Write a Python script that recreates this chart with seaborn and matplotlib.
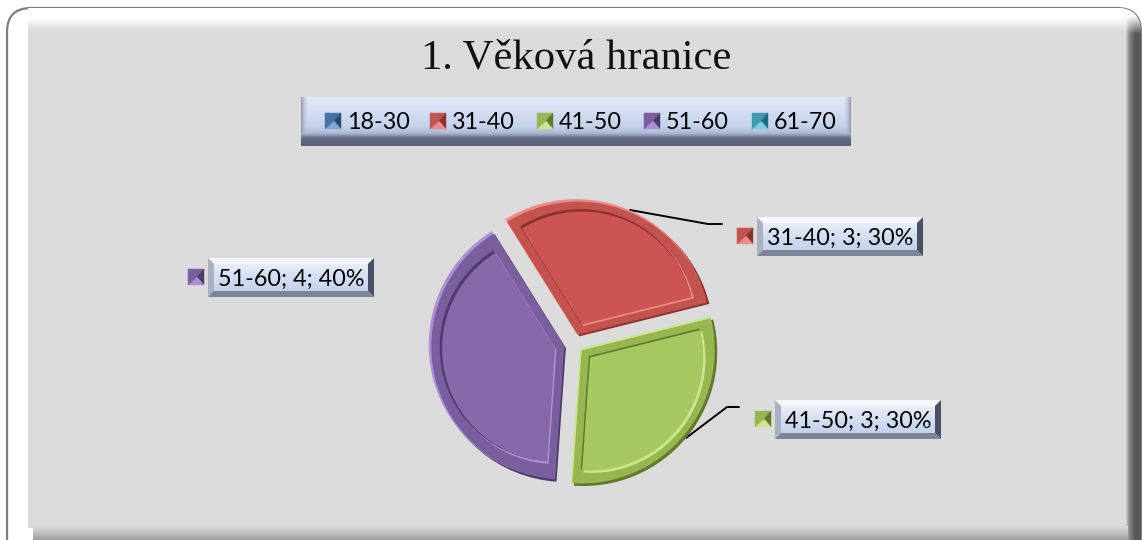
import numpy as np
import matplotlib
matplotlib.use('Agg')
import matplotlib.pyplot as plt
import seaborn as sns
from matplotlib.patches import FancyBboxPatch, Polygon, Rectangle

title = '1. Věková hranice'
categories = ['18-30', '31-40', '41-50', '51-60', '61-70']
counts = [0, 3, 3, 4, 0]
shown = [1, 2, 3]

face_colors = ['#4F81BD', '#CC5452', '#A6C860', '#8668AB', '#4BACC6']
rim_colors = ['#44719F', '#C4524F', '#96B650', '#7A5E9E', '#3F9AB2']
light_colors = ['#7FA6D6', '#EC8A85', '#CDE58E', '#AD90D4', '#7CCCE0']
dark_colors = ['#2A4A70', '#8A3331', '#5F7A2A', '#4E3A6C', '#206A80']
grey = '#DBDBDB'

sns.set_theme(style='white')
plt.rcParams['font.family'] = ['Lato', 'DejaVu Sans']


def Y(y):
    return 540 - y


def gradient(ax, x0, y0, x1, y1, stops, vertical=True, z=1, clip=None):
    # stops = seznam (pozice, barva)
    n = 64
    t = np.linspace(0, 1, n)
    pos = [s[0] for s in stops]
    cols = np.array([matplotlib.colors.to_rgba(s[1]) for s in stops])
    arr = np.stack([np.interp(t, pos, cols[:, i]) for i in range(4)], axis=1)
    arr = arr[:, None, :] if vertical else arr[None, :, :]
    im = ax.imshow(arr, extent=(x0, x1, Y(y1), Y(y0)), aspect='auto', zorder=z,
                   interpolation='bilinear')
    if clip is not None:
        im.set_clip_path(clip)


def bevel_box(ax, x0, y0, x1, y1, b=6):
    gradient(ax, x0, y0, x1, y1, [(0, '#F2F6FD'), (0.45, '#D6E0F2'), (1, '#BCCCE8')], z=5)
    tx0, ty0, tx1, ty1 = x0 + b, y0 + b, x1 - b, y1 - b
    ax.add_patch(Polygon([(x0, Y(y0)), (x1, Y(y0)), (tx1, Y(ty0)), (tx0, Y(ty0))],
                         fc='#F4F7FD', ec='none', zorder=6))
    ax.add_patch(Polygon([(x0, Y(y0)), (tx0, Y(ty0)), (tx0, Y(ty1)), (x0, Y(y1))],
                         fc='#A9B1C0', ec='none', zorder=6))
    ax.add_patch(Polygon([(x1, Y(y0)), (tx1, Y(ty0)), (tx1, Y(ty1)), (x1, Y(y1))],
                         fc='#4A5066', ec='none', zorder=6))
    ax.add_patch(Polygon([(x0, Y(y1)), (tx0, Y(ty1)), (tx1, Y(ty1)), (x1, Y(y1))],
                         fc='#7C8498', ec='none', zorder=6))


def swatch(ax, x, y, i, s=16):
    c = (x + s * 0.55, y + s * 0.5)
    corners = [(x, y), (x + s, y), (x + s, y + s), (x, y + s)]
    shades = [rim_colors[i], dark_colors[i], light_colors[i], rim_colors[i]]
    for k in range(4):
        a, b = corners[k], corners[(k + 1) % 4]
        ax.add_patch(Polygon([(a[0], Y(a[1])), (b[0], Y(b[1])), (c[0], Y(c[1]))],
                             fc=shades[k], ec=shades[k], lw=0.3, zorder=7))


fig = plt.figure(figsize=(11.42, 5.4), dpi=100)
ax = fig.add_axes([0, 0, 1, 1])

# ramecek a sede pozadi
frame = FancyBboxPatch((7, Y(560)), 1134, 552, boxstyle='round,pad=0,rounding_size=24',
                       fc='white', ec='#7F7F7F', lw=1.6, zorder=0)
ax.add_patch(frame)
gradient(ax, 1120, 8, 1142, 540, [(0, grey), (0.25, grey), (0.42, '#8A8A8A'),
                                  (0.7, '#565656'), (1, '#5C5C5C')], vertical=False, z=1, clip=frame)
gradient(ax, 1100, 8, 1142, 34, [(0, '#FFFFFF'), (0.3, '#FFFFFF'), (1, '#FFFFFF00')], z=1.5, clip=frame)
gradient(ax, 28, 8, 1122, 30, [(0, '#FFFFFF'), (0.45, '#FFFFFF'), (1, grey)], z=2)
ax.add_patch(Rectangle((28, Y(528)), 1097, 498, fc=grey, ec='none', zorder=2))
gradient(ax, 33, 526, 1128, 540, [(0, grey), (0.3, '#CBCBCB'), (1, '#9E9E9E')], z=2)

ax.text(576, Y(58), title, family='Liberation Serif', fontsize=30.7, color='#111111',
        ha='center', va='center', zorder=8)

# legenda
lx0, ly0, lx1, ly1 = 301, 97, 851, 146
gradient(ax, lx0, ly0, lx1, ly1, [(0, '#E2E9F6'), (0.6, '#C4D2EC'), (0.74, '#AEBAD2'),
                                  (0.85, '#5F6880'), (1, '#5A6378')], z=5)
gradient(ax, lx0, ly0, lx0 + 7, ly1 - 12, [(0, '#8F95A3'), (1, '#C4D2EC00')], vertical=False, z=6)
gradient(ax, lx1 - 7, ly0, lx1, ly1 - 12, [(0, '#C4D2EC00'), (1, '#8F95A3')], vertical=False, z=6)
legend_swatch_x = [325, 430, 537, 644, 752]
for i, cat in enumerate(categories):
    swatch(ax, legend_swatch_x[i], 113, i, s=16)
    ax.text(legend_swatch_x[i] + 22, Y(122.5), cat, fontsize=16.8, color='black',
            ha='left', va='center', zorder=8)

# kolac
center = (574, Y(344))
r = 134
expl = [0, 10, 10, 10, 0]
common = dict(startangle=122, counterclock=False, frame=True)
shift = 1.6
ax.pie(counts, colors=dark_colors, radius=r, center=(center[0] + shift, center[1] - shift),
       explode=expl, wedgeprops=dict(lw=0, zorder=3), **common)
ax.pie(counts, colors=light_colors, radius=r, center=(center[0] - shift, center[1] + shift),
       explode=expl, wedgeprops=dict(lw=0, zorder=3), **common)
ax.pie(counts, colors=rim_colors, radius=r - 1, center=center,
       explode=expl, wedgeprops=dict(lw=0, zorder=3.2), **common)
# vnitrni plocha s tmavou a svetlou hranou
inner_expl = [0, 21, 21, 19.5, 0]
ax.pie(counts, colors=light_colors, radius=114, center=(center[0] + 1.4, center[1] - 1.4),
       explode=inner_expl, wedgeprops=dict(lw=0, zorder=3.4), **common)
ax.pie(counts, colors=dark_colors, radius=114, center=(center[0] - 1.4, center[1] + 1.4),
       explode=inner_expl, wedgeprops=dict(lw=0, zorder=3.4), **common)
ax.pie(counts, colors=face_colors, radius=113, center=center,
       explode=inner_expl, wedgeprops=dict(lw=0, zorder=3.6), **common)

# popisky
box_pos = [(757, 217), (775, 400), (208, 258)]
total = sum(counts)
for idx, (bx, by) in zip(shown, box_pos):
    bevel_box(ax, bx, by, bx + 166, by + 39)
    swatch(ax, bx - 20, by + 11, idx, s=16)
    label = f'{categories[idx]}; {counts[idx]}; {round(counts[idx] / total * 100)}%'
    ax.text(bx + 83, Y(by + 21.5), label, fontsize=16.8, color='black',
            ha='center', va='center', zorder=8)

# vodici cary
ax.plot([630, 708, 722], [Y(210), Y(224), Y(224)], color='black', lw=1.4, zorder=2.5)
ax.plot([686, 727, 739], [Y(438), Y(407), Y(407)], color='black', lw=1.4, zorder=2.5)

ax.set_xlim(0, 1142)
ax.set_ylim(0, 540)
ax.set_aspect('auto')
ax.axis('off')
fig.savefig('out.png', dpi=100, facecolor='white')
plt.close(fig)
